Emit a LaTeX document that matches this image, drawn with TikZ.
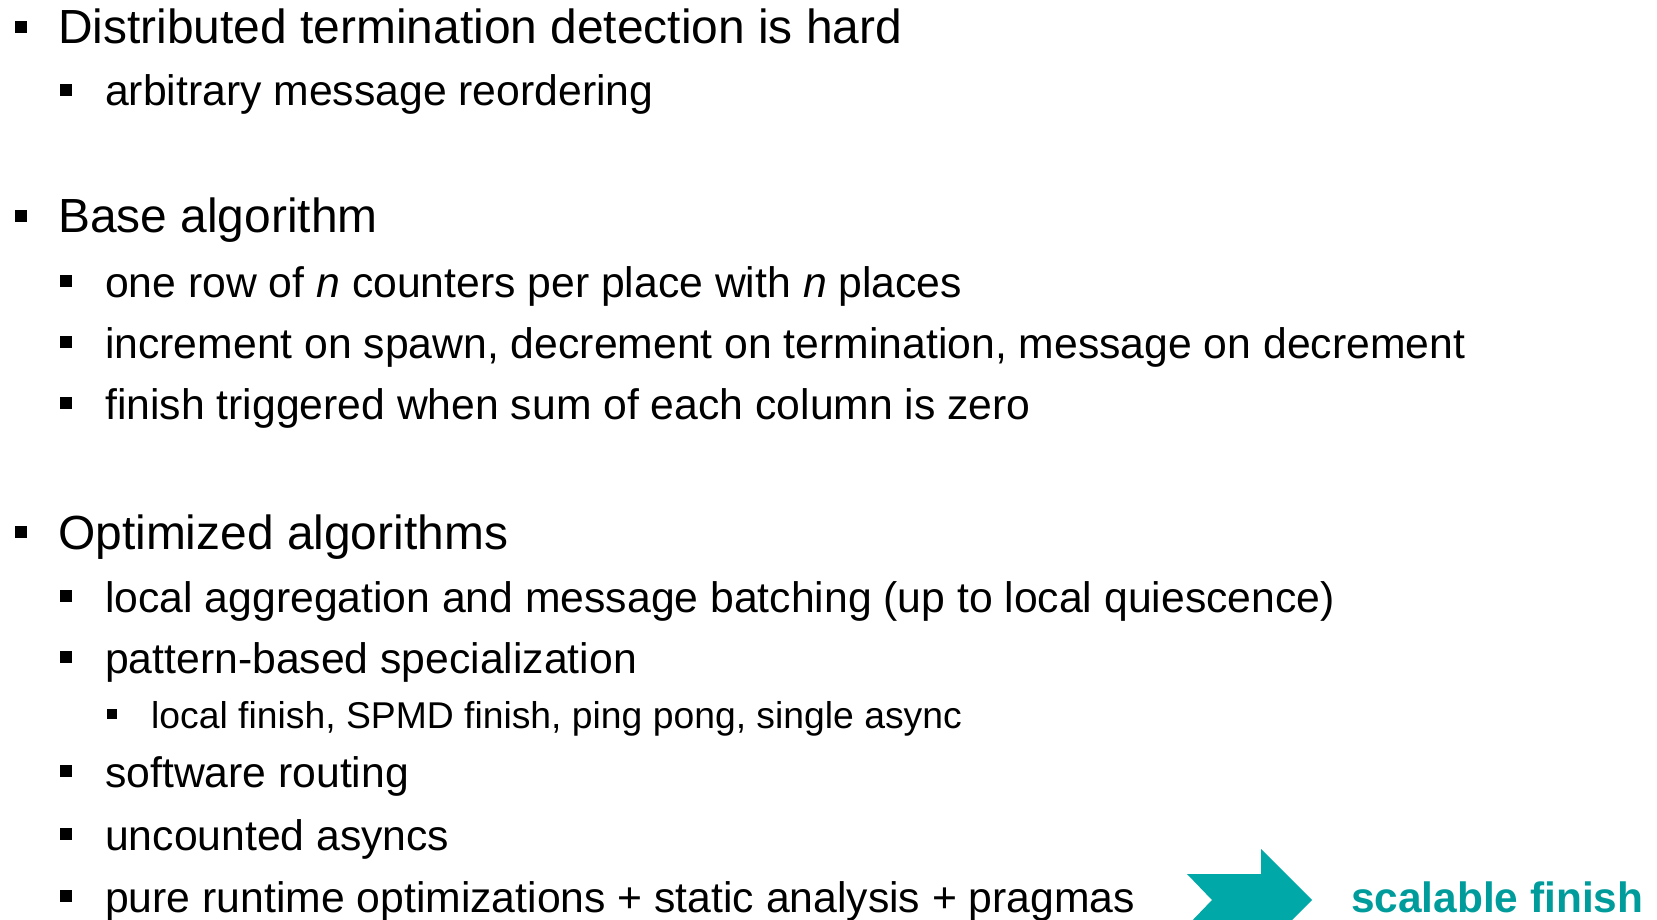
\documentclass[tikz,border=0pt]{standalone}
\usepackage{fontspec}
\setmainfont{Liberation Sans}
\definecolor{tealA}{HTML}{00A8A8}
\definecolor{tealT}{HTML}{009C9C}
\tikzset{
  lone/.style={anchor=base west, inner sep=0pt, font=\fontsize{47.9}{57}\selectfont},
  ltwo/.style={anchor=base west, inner sep=0pt, font=\fontsize{42.7}{51}\selectfont},
  lthree/.style={anchor=base west, inner sep=0pt, font=\fontsize{37.3}{45}\selectfont},
  bone/.style={fill=black, inner sep=0pt, minimum size=12pt},
  btwo/.style={fill=black, inner sep=0pt, minimum size=12pt},
  bthree/.style={fill=black, inner sep=0pt, minimum size=10pt},
  hl/.style={anchor=base west, inner sep=0pt, text=tealT, font=\fontsize{42.4}{50}\selectfont\bfseries},
}
\begin{document}
\begin{tikzpicture}[x=1pt,y=-1pt]
\useasboundingbox (0,0) rectangle (1657,920);
\clip (0,0) rectangle (1657,920);
% level 1
\node[bone] (b1) at (21,27) {};
\node[lone] (t1) at (58,44) {Distributed termination detection is hard};
\node[btwo] (b2) at (65.5,90) {};
\node[ltwo] (t2) at (105,106) {arbitrary message reordering};

\node[bone] (b3) at (21,216) {};
\node[lone] (t3) at (58,233) {Base algorithm};
\node[btwo] (b4) at (65.5,281) {};
\node[ltwo] (t4) at (105,297) {one row of \textit{n} counters per place with \textit{n} places};
\node[btwo] (b5) at (65.5,342) {};
\node[ltwo] (t5) at (105,358) {increment on spawn, decrement on termination, message on decrement};
\node[btwo] (b6) at (65.5,403) {};
\node[ltwo] (t6) at (105,419) {finish triggered when sum of each column is zero};

\node[bone] (b7) at (21,532) {};
\node[lone] (t7) at (58,549) {Optimized algorithms};
\node[btwo] (b8) at (65.5,596) {};
\node[ltwo] (t8) at (105,612) {local aggregation and message batching (up to local quiescence)};
\node[btwo] (b9) at (65.5,657) {};
\node[ltwo] (t9) at (105,673) {pattern-based specialization};
\node[bthree] (b10) at (112,714) {};
\node[lthree] (t10) at (151,728) {local finish, SPMD finish, ping pong, single async};
\node[btwo] (b11) at (65.5,771) {};
\node[ltwo] (t11) at (105,787) {software routing};
\node[btwo] (b12) at (65.5,834) {};
\node[ltwo] (t12) at (105,850) {uncounted asyncs};
\node[btwo] (b13) at (65.5,896) {};
\node[ltwo] (t13) at (105,912) {pure runtime optimizations + static analysis + pragmas};

% arrow
\fill[tealA] (1187,874) -- (1261,874) -- (1261,849) -- (1312,900) -- (1261,951)
  -- (1261,926) -- (1187,926) -- (1212,900) -- cycle;
\node[hl] (sf) at (1351,912) {scalable finish};
\end{tikzpicture}
\end{document}
